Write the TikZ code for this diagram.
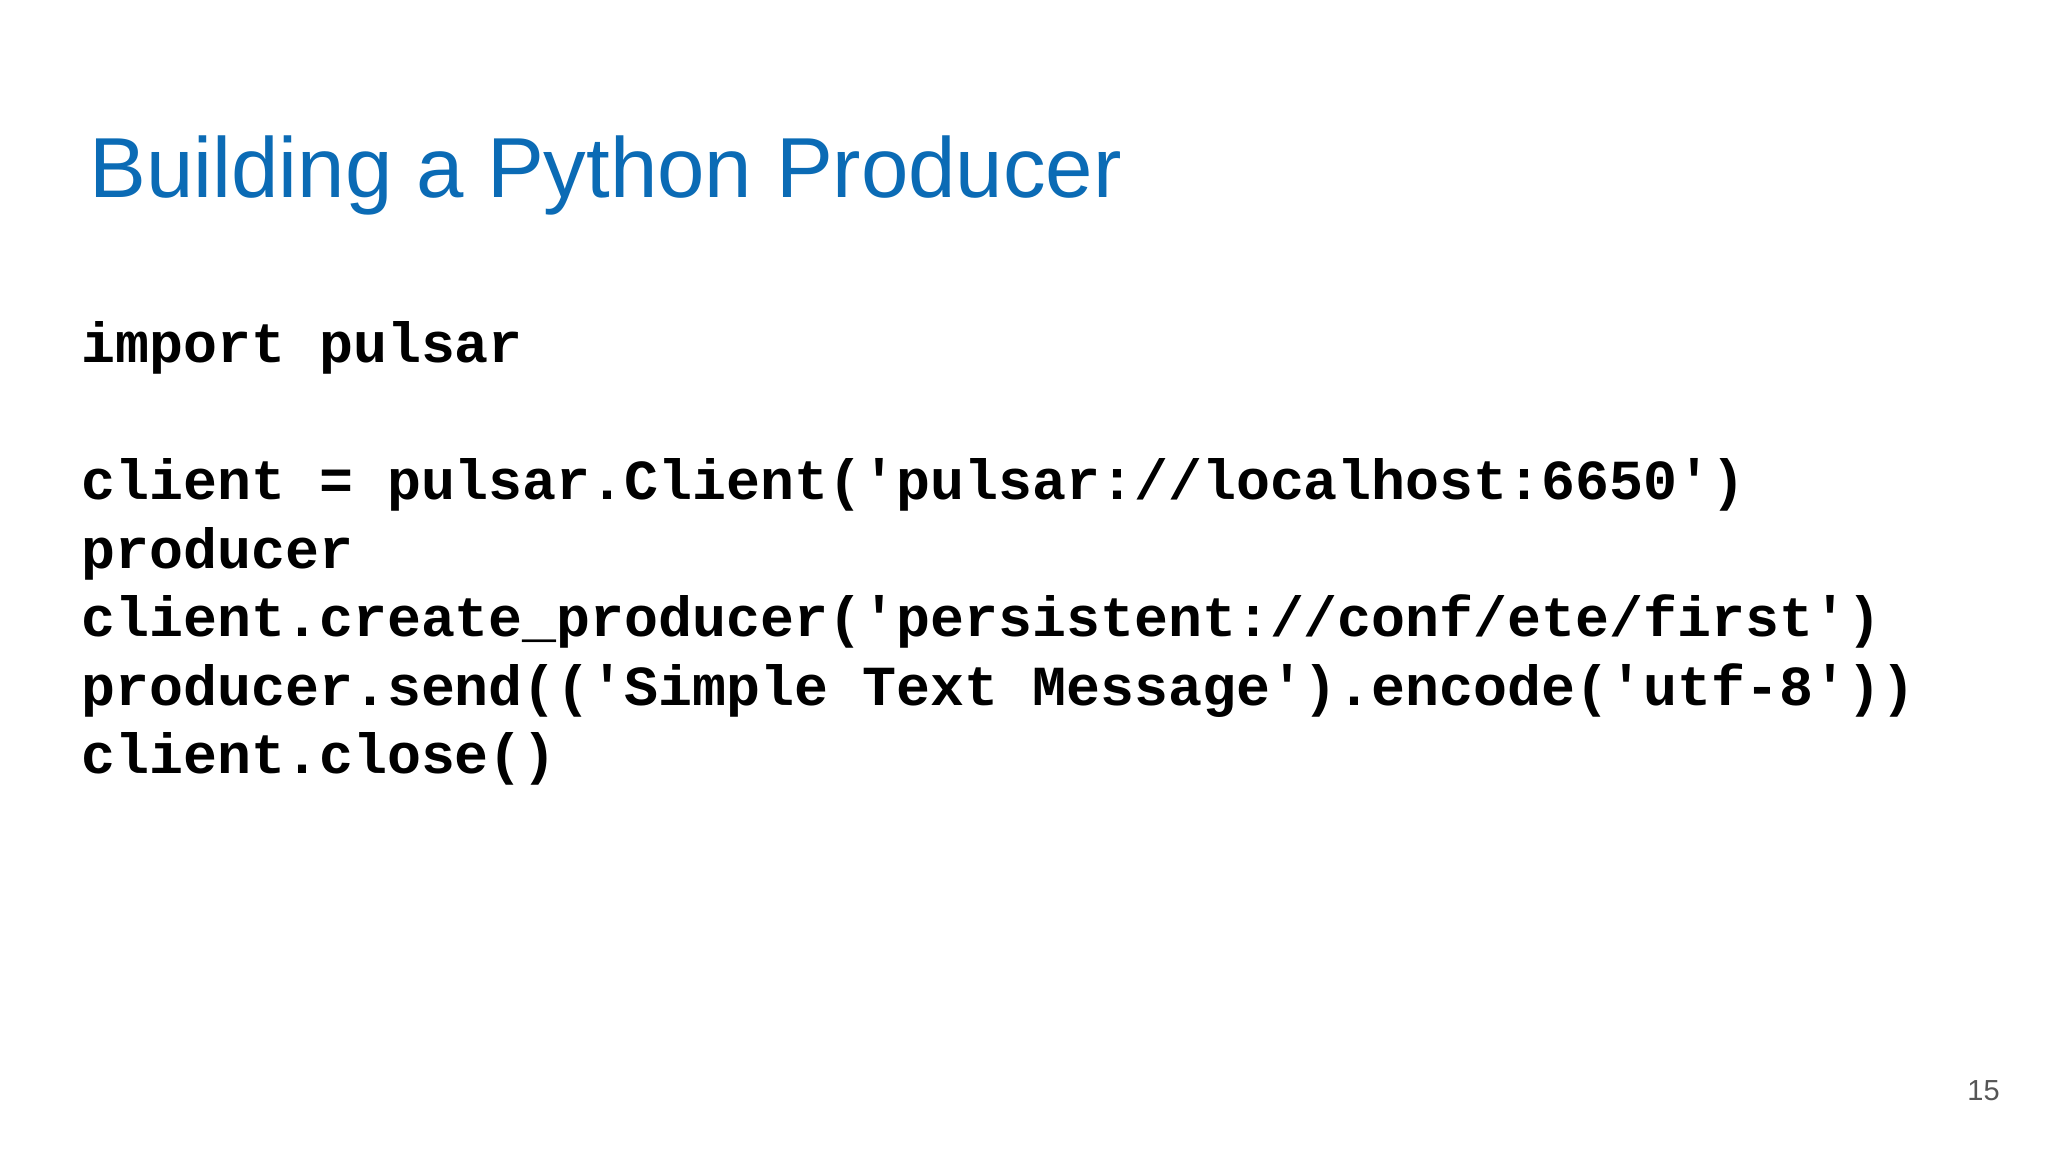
\documentclass[tikz,border=0pt]{standalone}
\usepackage{fontspec}
\setmainfont{Liberation Sans}
\newfontfamily\codefont{Liberation Mono}
\definecolor{titleblue}{HTML}{0B6BB5}
\definecolor{pagegray}{HTML}{555555}
\begin{document}
\begin{tikzpicture}[x=1pt,y=1pt,
  codeline/.style={anchor=base west,inner sep=0pt,font=\codefont\bfseries\fontsize{28.3}{34}\selectfont},
  titletext/.style={anchor=base west,inner sep=0pt,text=titleblue,font=\fontsize{42.6}{51}\selectfont}]
\useasboundingbox (0,0) rectangle (1024,576);
\fill[white] (0,0) rectangle (1024,576);
\node[titletext] (title) at (44.5,477) {Building a Python Producer};
\node[codeline] (l1) at (40.5,394.5) {import pulsar};
\node[codeline] (l2) at (40.5,326.1) {client = pulsar.Client('pulsar://localhost:6650')};
\node[codeline] (l3) at (40.5,291.9) {producer};
\node[codeline] (l4) at (40.5,257.7) {client.create\_producer('persistent://conf/ete/first')};
\node[codeline] (l5) at (40.5,223.5) {producer.send(('Simple Text Message').encode('utf-8'))};
\node[codeline] (l6) at (40.5,189.3) {client.close()};
\node[anchor=base east,inner sep=0pt,text=pagegray,font=\fontsize{14.5}{17}\selectfont] (page) at (1000,26) {15};
\end{tikzpicture}
\end{document}
